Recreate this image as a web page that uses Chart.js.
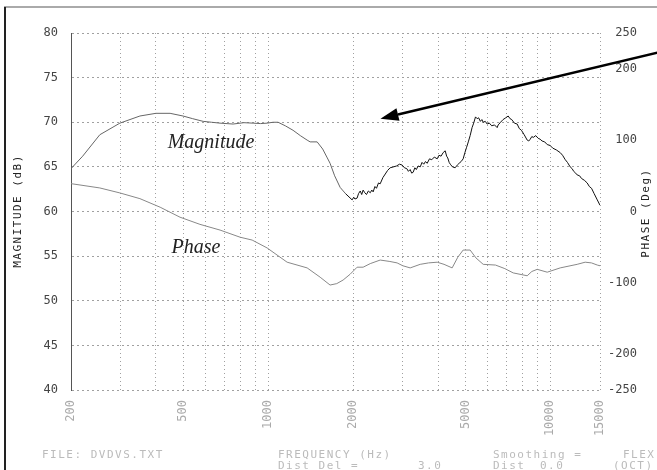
<!DOCTYPE html>
<html>
<head>
<meta charset="utf-8">
<title>Magnitude / Phase</title>
<script src="https://cdn.jsdelivr.net/npm/chart.js@4/dist/chart.umd.min.js"></script>
<style>
  html, body { margin: 0; padding: 0; background: #fff; }
  canvas { display: block; }
</style>
</head>
<body>
<canvas id="c" width="657" height="470"></canvas>
<script>
// magnitude response (dB) vs frequency (Hz)
const magFreq = [200, 220, 253, 298, 351, 400, 449, 499, 540, 588, 630, 675, 751, 820, 884, 940, 991, 1040, 1084, 1150,
  1225, 1300, 1374, 1408, 1491, 1560, 1620, 1657, 1720, 1799, 1880,
  1984, 2010, 2030, 2066, 2090, 2120, 2145, 2170, 2200, 2230, 2265, 2300, 2330, 2355, 2390, 2420, 2460, 2494, 2550, 2600,
  2650, 2706, 2780, 2850, 2920, 2985, 3040, 3100, 3140, 3186, 3225, 3265, 3310, 3350, 3400, 3458, 3510, 3560, 3610, 3660,
  3730, 3800, 3880, 3972, 4030, 4100, 4170, 4240, 4290, 4330, 4380, 4420, 4500, 4599, 4680, 4750, 4830, 4910, 4980, 5050,
  5120, 5198, 5280, 5350, 5430, 5505, 5570, 5650, 5720, 5782, 5880, 5974, 6080, 6200, 6340, 6480, 6534, 6660, 6800, 6950,
  7088, 7200, 7300, 7460, 7630, 7760, 7900, 8080, 8280, 8386, 8486, 8600, 8700, 8880, 9058, 9200, 9350, 9550, 9750, 9980,
  10200, 10500, 10840, 11050, 11300, 11500, 11760, 11950, 12100, 12300, 12450, 12700, 12900, 13200, 13510, 13750, 14000,
  14300, 14670, 15000];
const magDb = [64.8, 66.2, 68.6, 69.9, 70.7, 71.0, 71.0, 70.7, 70.4, 70.1, 70.0, 69.9, 69.8, 69.95, 69.9, 69.85, 69.9, 70.0, 70.0, 69.6,
  69.1, 68.5, 68.0, 67.8, 67.8, 67.0, 66.0, 65.4, 64.0, 62.7, 62.0,
  61.3, 61.6, 61.4, 61.5, 62.0, 62.3, 61.9, 62.4, 62.1, 61.9, 62.3, 62.1, 62.4, 62.2, 62.8, 62.6, 63.2, 63.1, 63.8, 64.2,
  64.6, 64.9, 65.0, 65.1, 65.3, 65.2, 64.9, 64.8, 64.5, 64.7, 64.3, 64.4, 64.9, 64.7, 65.1, 65.0, 65.5, 65.3, 65.6, 65.4,
  65.9, 65.8, 66.1, 65.9, 66.3, 66.2, 66.6, 66.8, 66.2, 66.0, 65.5, 65.3, 65.0, 64.9, 65.2, 65.4, 65.6, 65.9, 66.6, 67.2,
  67.8, 68.5, 69.4, 69.9, 70.6, 70.4, 70.5, 70.1, 70.3, 70.0, 70.1, 69.8, 69.9, 69.6, 69.7, 69.4, 69.7, 70.0, 70.3, 70.5,
  70.7, 70.4, 70.3, 69.9, 69.8, 69.3, 69.1, 68.6, 68.0, 67.9, 68.1, 68.4, 68.3, 68.5, 68.2, 68.1, 67.9, 67.8, 67.5, 67.4,
  67.1, 66.9, 66.6, 66.3, 65.8, 65.5, 65.0, 64.8, 64.5, 64.3, 64.1, 64.0, 63.7, 63.5, 63.2, 62.8, 62.6,
  62.0, 61.3, 60.7];

// phase response (deg)
const phaseFreq = [200, 253, 298, 351, 414, 487, 573, 675, 795, 877, 991, 1167, 1374, 1528, 1657, 1750, 1843, 1950, 2066, 2170,
  2300, 2494, 2700, 2864, 3000, 3186, 3458, 3700, 3972, 4200, 4488, 4700, 4910, 5198, 5450, 5782, 6393, 6900, 7385, 8280,
  8600, 8986, 9750, 10840, 12450, 13290, 14000, 14670, 15000];
const phaseDeg = [39, 33, 26, 18, 6, -8, -18, -26, -36, -40, -51, -71, -79, -92, -103, -101, -96, -88, -78, -78,
  -73, -68, -70, -72, -76, -79, -74, -72, -71, -74, -79, -64, -54, -54, -65, -74, -75, -80, -86, -90,
  -84, -81, -85, -79, -74, -71, -72, -75, -76];

// axis ticks
const gridFreqs = [200, 300, 400, 500, 600, 700, 800, 900, 1000, 2000, 3000, 4000, 5000, 6000, 7000, 8000, 9000, 10000, 15000];
const freqLabels = [200, 500, 1000, 2000, 5000, 10000, 15000];
const dbTicks = [40, 45, 50, 55, 60, 65, 70, 75, 80];
const degTicks = [-250, -200, -100, 0, 100, 200, 250];

const MONO = '"DejaVu Sans Mono", monospace';

const decor = {
  id: 'decor',
  afterDraw(chart) {
    const { ctx, scales: { x, y } } = chart;
    ctx.save();

    // page frame
    ctx.lineWidth = 2;
    ctx.strokeStyle = '#aaa';
    ctx.beginPath(); ctx.moveTo(4, 7); ctx.lineTo(657, 7); ctx.stroke();
    ctx.strokeStyle = '#222';
    ctx.beginPath(); ctx.moveTo(5, 7); ctx.lineTo(5, 470); ctx.stroke();

    // axis titles
    ctx.font = '11px ' + MONO;
    ctx.letterSpacing = '1.5px';
    ctx.fillStyle = '#222';
    ctx.textAlign = 'center';
    ctx.textBaseline = 'middle';
    ctx.save(); ctx.translate(18, 211); ctx.rotate(-Math.PI / 2); ctx.fillText('MAGNITUDE (dB)', 0, 0); ctx.restore();
    ctx.save(); ctx.translate(646, 213); ctx.rotate(-Math.PI / 2); ctx.fillText('PHASE (Deg)', 0, 0); ctx.restore();

    // footer
    ctx.fillStyle = '#bbb';
    ctx.textAlign = 'left';
    ctx.fillText('FILE: DVDVS.TXT', 42, 455);
    ctx.fillText('FREQUENCY (Hz)', 278, 455);
    ctx.fillText('Smoothing =', 493, 455);
    ctx.fillText('FLEX', 623, 455);
    ctx.fillText('Dist Del =', 278, 466);
    ctx.fillText('3.0', 418, 466);
    ctx.fillText('Dist', 493, 466);
    ctx.fillText('0.0', 540, 466);
    ctx.fillText('(OCT)', 613, 466);
    ctx.letterSpacing = '0px';

    // curve names
    ctx.font = 'italic 20px "Liberation Serif", serif';
    ctx.fillStyle = '#222';
    ctx.textAlign = 'center';
    ctx.fillText('Magnitude', x.getPixelForValue(627), y.getPixelForValue(67.7));
    ctx.fillText('Phase', x.getPixelForValue(555), y.getPixelForValue(55.9));

    // pointer arrow
    const tx = x.getPixelForValue(2500), ty = y.getPixelForValue(70.4);
    const sx = x.getPixelForValue(24000), sy = y.getPixelForValue(77.8);
    const ang = Math.atan2(ty - sy, tx - sx);
    const hl = 18, hw = 6.5;
    const bx = tx - hl * Math.cos(ang), by = ty - hl * Math.sin(ang);
    ctx.strokeStyle = '#000';
    ctx.lineWidth = 2.5;
    ctx.beginPath(); ctx.moveTo(sx, sy); ctx.lineTo(bx, by); ctx.stroke();
    ctx.fillStyle = '#000';
    ctx.beginPath();
    ctx.moveTo(tx, ty);
    ctx.lineTo(bx + hw * Math.sin(ang), by - hw * Math.cos(ang));
    ctx.lineTo(bx - hw * Math.sin(ang), by + hw * Math.cos(ang));
    ctx.closePath();
    ctx.fill();

    ctx.restore();
  }
};

new Chart(document.getElementById('c'), {
  type: 'line',
  data: {
    datasets: [{
      label: 'Magnitude',
      data: magFreq.map((f, i) => ({ x: f, y: magDb[i] })),
      yAxisID: 'y',
      borderColor: '#333',
      // lighter trace below ~1.8 kHz, darker and noisier above
      segment: { borderColor: c => c.p0.parsed.x >= 1800 ? '#111' : '#666' },
      borderWidth: 1,
      pointRadius: 0,
      tension: 0
    }, {
      label: 'Phase',
      data: phaseFreq.map((f, i) => ({ x: f, y: phaseDeg[i] })),
      yAxisID: 'y2',
      borderColor: '#888',
      borderWidth: 1,
      pointRadius: 0,
      tension: 0
    }]
  },
  options: {
    responsive: false,
    animation: false,
    layout: { padding: { top: 33, left: 0, right: 20, bottom: 0 } },
    plugins: { legend: { display: false }, tooltip: { enabled: false } },
    scales: {
      x: {
        type: 'logarithmic',
        min: 200,
        max: 15000,
        afterBuildTicks: s => { s.ticks = gridFreqs.map(v => ({ value: v })); },
        afterFit: s => { s.height = 80; },
        ticks: {
          autoSkip: false,
          minRotation: 90,
          maxRotation: 90,
          padding: 10,
          color: '#aaa',
          font: { family: MONO, size: 12 },
          callback: v => freqLabels.includes(v) ? String(v) : ''
        },
        grid: { color: '#a0a0a0', lineWidth: 1, drawTicks: false },
        border: { display: false, dash: [1, 3] }
      },
      y: {
        position: 'left',
        min: 40,
        max: 80,
        afterBuildTicks: s => { s.ticks = dbTicks.map(v => ({ value: v })); },
        afterFit: s => { s.width = 71; },
        ticks: { padding: 13, color: '#444', font: { family: MONO, size: 12 } },
        grid: { color: '#a0a0a0', lineWidth: 1, drawTicks: false },
        border: { display: true, color: '#555', width: 1, dash: [2, 3] }
      },
      y2: {
        position: 'right',
        min: -250,
        max: 250,
        afterBuildTicks: s => { s.ticks = degTicks.map(v => ({ value: v })); },
        afterFit: s => { s.width = 37; },
        ticks: { padding: 8, crossAlign: 'far', color: '#444', font: { family: MONO, size: 12 } },
        grid: { display: false, drawTicks: false },
        border: { display: false }
      }
    }
  },
  plugins: [decor]
});
</script>
</body>
</html>
